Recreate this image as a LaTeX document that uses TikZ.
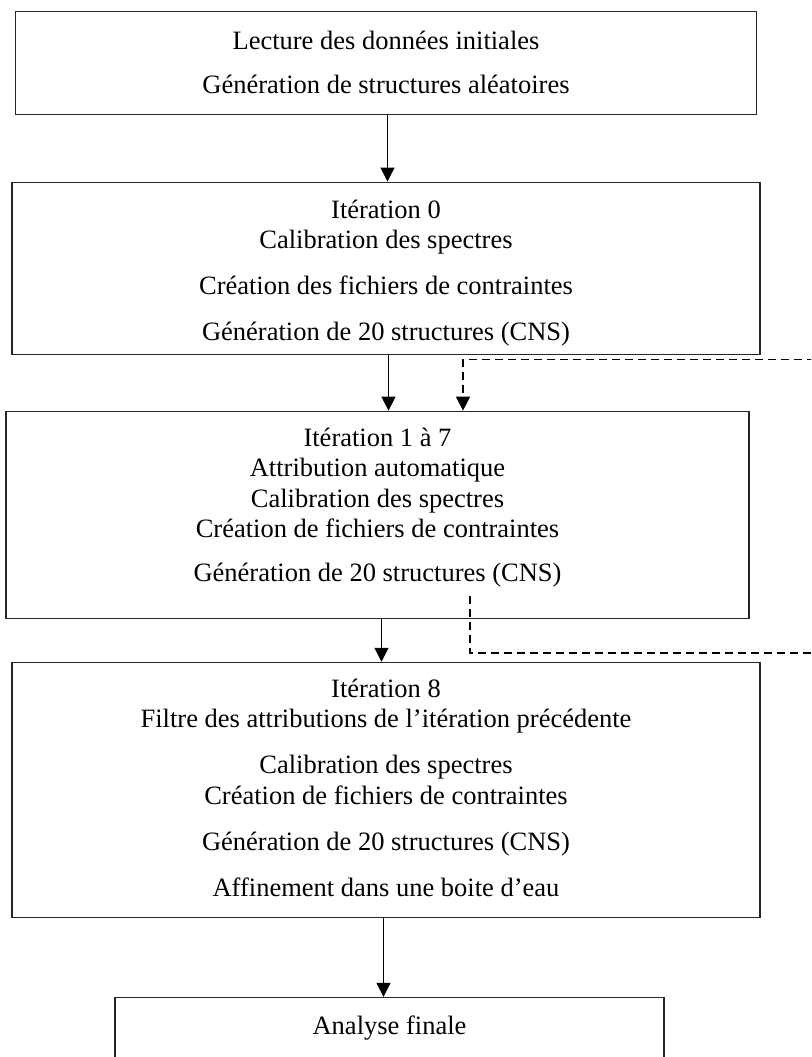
\documentclass[tikz,border=0pt]{standalone}
\usepackage{fontspec}
\setmainfont{Liberation Serif}
\usetikzlibrary{arrows.meta,positioning,calc}
% struts that fix the first line's height and the last line's depth
\newcommand\htop[1]{\rule{0pt}{#1}}
\newcommand\dbot[1]{\rule[-#1]{0pt}{0pt}}
\tikzset{
  font=\fontsize{26.5}{30.5}\selectfont,
  box/.style={draw=black!85,line width=1.1pt,align=center,inner sep=0pt,
              minimum width=748pt},
  flow/.style={-{Triangle[length=14pt,width=14pt]},line width=1.2pt,draw=black},
  back/.style={line width=1.2pt,draw=black,dash pattern=on 8pt off 5pt},
  backa/.style={back,-{Triangle[length=14pt,width=14pt]}},
}
\begin{document}
\begin{tikzpicture}
  \useasboundingbox (0,0) rectangle (811pt,-1057pt);
  \clip (0,0) rectangle (811pt,-1057pt);

  \node[box,minimum width=741.5pt,minimum height=103pt] (init) at (386pt,-63pt)
    {\htop{22.7pt}Lecture des données initiales\\[12.8pt]Génération de structures aléatoires\dbot{6pt}};
  \node[box,minimum height=172pt,below=66.5pt of init] (it0)
    {\htop{28.5pt}Itération 0\\Calibration des spectres\\[15.5pt]Création des fichiers de contraintes\\[15.5pt]
     Génération de 20 structures (CNS)\dbot{6pt}};
  \node[box,minimum width=743pt,minimum height=207pt,below=56pt of it0,xshift=-8.5pt] (it17)
    {\htop{26pt}Itération 1 à 7\\Attribution automatique\\Calibration des spectres\\Création de fichiers de contraintes\\[13.5pt]
     Génération de 20 structures (CNS)\dbot{27.5pt}};
  \node[box,minimum height=255pt,below=43pt of it17,xshift=8.5pt] (it8)
    {\htop{26pt}Itération 8\\Filtre des attributions de l’itération précédente\\[15.5pt]
     Calibration des spectres\\Création de fichiers de contraintes\\[15.5pt]
     Génération de 20 structures (CNS)\\[15.5pt]Affinement dans une boite d’eau\dbot{12pt}};
  \node[box,minimum width=549pt,minimum height=130pt,below=79pt of it8,xshift=3.5pt] (fin)
    {\htop{20pt}Analyse finale\dbot{76pt}};

  \coordinate (backin) at (815pt,-359.5pt);
  \coordinate (backout) at (815pt,-653pt);

  \draw[flow] ([xshift=1.5pt]init.south) -- ([xshift=1.5pt]init.south |- it0.north);
  \draw[flow] ([xshift=2.5pt]it0.south) -- ([xshift=2.5pt]it0.south |- it17.north);
  \draw[flow] ([xshift=4pt]it17.south) -- ([xshift=4pt]it17.south |- it8.north);
  \draw[flow] ([xshift=-2.5pt]it8.south) -- ([xshift=-2.5pt]it8.south |- fin.north);

  \draw[backa] (backin) -| ([xshift=85.5pt]it17.north);
  \draw[back] ([xshift=92.5pt,yshift=23pt]it17.south) |- (backout);
\end{tikzpicture}
\end{document}
